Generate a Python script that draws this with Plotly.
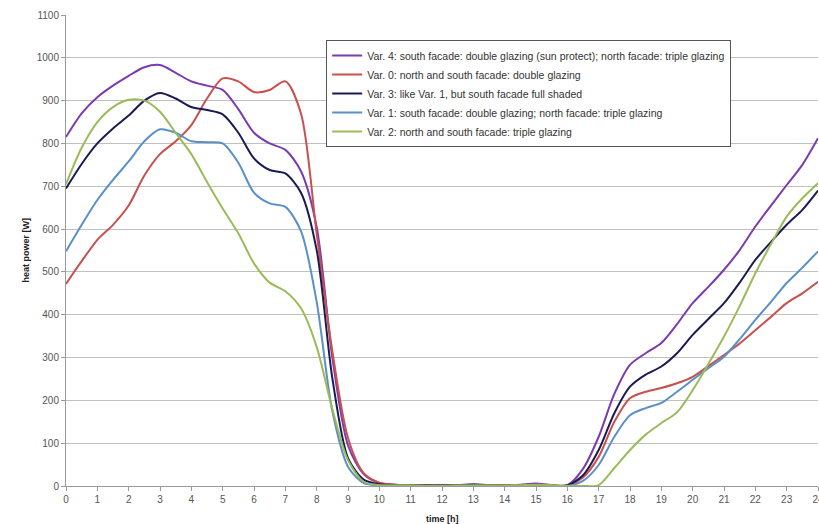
import plotly.graph_objects as go

hours = [i * 0.5 for i in range(49)]

var4 = [815, 870, 908, 935, 958, 978, 983, 965, 945, 935, 925, 880, 825, 800, 785, 735, 605, 300, 95, 28, 7,
        3, 2, 1, 1, 2, 4, 2, 1, 3, 6, 2, 2, 40, 115, 215, 283, 310, 334, 378, 427, 465, 505, 551, 606, 655, 703, 750, 812]
var0 = [472, 525, 575, 610, 655, 725, 775, 805, 843, 905, 952, 945, 920, 925, 945, 870, 590, 315, 112, 30, 8,
        3, 2, 1, 1, 1, 2, 1, 1, 1, 2, 1, 1, 20, 68, 150, 205, 220, 229, 240, 255, 280, 306, 333, 364, 395, 427, 450, 477]
var3 = [695, 752, 800, 835, 865, 900, 918, 905, 885, 878, 868, 825, 765, 738, 730, 685, 551, 252, 65, 15, 4,
        2, 1, 1, 1, 2, 3, 2, 1, 1, 2, 1, 1, 25, 84, 170, 232, 260, 279, 310, 353, 390, 427, 475, 528, 570, 610, 645, 690]
var1 = [548, 610, 668, 715, 758, 805, 833, 825, 805, 803, 800, 755, 685, 660, 652, 595, 430, 175, 45, 7, 2,
        1, 1, 0, 0, 1, 1, 1, 0, 1, 1, 1, 0, 12, 49, 115, 165, 182, 194, 220, 248, 275, 302, 343, 388, 430, 474, 510, 548]
var2 = [705, 790, 850, 885, 902, 900, 874, 825, 775, 710, 648, 590, 520, 475, 455, 415, 325, 180, 60, 10, 2,
        1, 1, 0, 0, 1, 1, 1, 1, 2, 3, 2, 0, 0, 2, 42, 84, 120, 147, 172, 224, 285, 349, 420, 497, 565, 629, 672, 707]

names = [
    "Var. 4: south facade: double glazing (sun protect); north facade: triple glazing",
    "Var. 0: north and south facade: double glazing",
    "Var. 3: like Var. 1, but south facade full shaded",
    "Var. 1: south facade: double glazing; north facade: triple glazing",
    "Var. 2: north and south facade: triple glazing",
]
series = [var4, var0, var3, var1, var2]
colors = ["#7B3BB0", "#C8504D", "#1A1A55", "#5A8FC8", "#9BBB59"]

x_ticks = list(range(25))
y_ticks = list(range(0, 1101, 100))

fig = go.Figure()
for name, vals, col in zip(names, series, colors):
    fig.add_trace(go.Scatter(x=hours, y=vals, name=name, mode="lines",
                             line=dict(color=col, width=2, shape="spline", smoothing=0.8)))

fig.update_layout(
    width=819, height=524,
    margin=dict(l=66, r=1, t=15, b=38),
    paper_bgcolor="white", plot_bgcolor="white",
    font=dict(family="Liberation Sans, Arial, sans-serif", size=10, color="#555555"),
    showlegend=True,
    legend=dict(x=0.346, y=0.947, xanchor="left", yanchor="top",
                bordercolor="#555555", borderwidth=1, bgcolor="white",
                font=dict(size=10.5, color="#333333"), tracegroupgap=0, itemwidth=30),
    xaxis=dict(range=[0, 24], tickvals=x_ticks, ticktext=[str(v) for v in x_ticks],
               showgrid=False, showline=True, linecolor="#999999", linewidth=1,
               ticks="outside", ticklen=4, tickcolor="#999999", zeroline=False,
               automargin=False, ticklabeloverflow="allow",
               tickfont=dict(size=10, color="#555555")),
    yaxis=dict(range=[0, 1100], tickvals=y_ticks, showgrid=True, gridcolor="#C0C0C0", gridwidth=1.3,
               showline=True, linecolor="#999999", linewidth=1, ticks="outside", ticklen=4,
               tickcolor="#999999", zeroline=False, automargin=False,
               tickfont=dict(size=10, color="#555555")),
    annotations=[
        dict(text="<b>heat power [W]</b>", xref="paper", yref="paper", x=-0.0545, y=0.5,
             textangle=-90, showarrow=False, xanchor="center", yanchor="middle",
             font=dict(size=9, color="#222222")),
        dict(text="<b>time [h]</b>", xref="paper", yref="paper", x=0.501, y=-0.070,
             showarrow=False, xanchor="center", yanchor="middle",
             font=dict(size=9, color="#222222")),
    ],
)

fig.write_html("out.html", config={"displayModeBar": False},
               post_script="document.body.style.margin='0px';")
